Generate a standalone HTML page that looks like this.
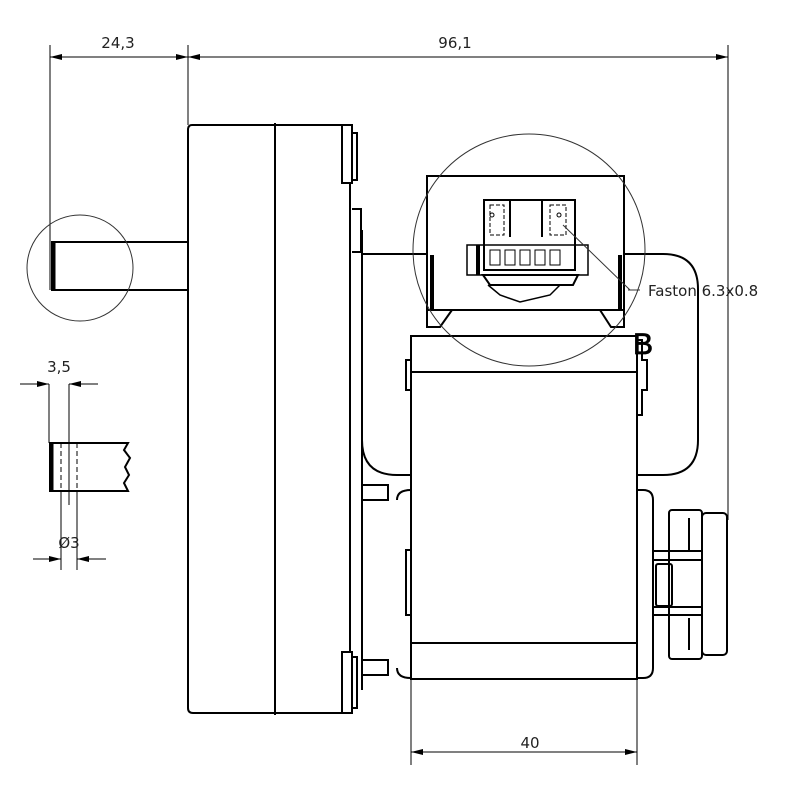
<!DOCTYPE html>
<html><head><meta charset="utf-8"><style>html,body{margin:0;padding:0;background:#fff}svg{display:block}</style></head>
<body>
<svg width="800" height="800" viewBox="0 0 800 800" xmlns="http://www.w3.org/2000/svg" font-family="'DejaVu Sans','Liberation Sans',sans-serif">
<defs>
<marker id="a" viewBox="0 0 12 6" refX="12" refY="3" markerWidth="12" markerHeight="6" orient="auto-start-reverse" markerUnits="userSpaceOnUse"><path d="M0,0L12,3L0,6z" fill="#000"/></marker>
</defs>
<g stroke="#000" fill="none" stroke-width="2">
<!-- bracket (drawn first so boxes cover it) -->
<path d="M362,254H663Q698,254 698,289V440Q698,475 663,475H637"/>
<path d="M411,475H397Q362,475 362,440"/>
</g>
<g stroke="#000" fill="none" stroke-width="1">
<!-- top dims -->
<line x1="50" y1="45" x2="50" y2="290"/>
<line x1="188" y1="45" x2="188" y2="125"/>
<line x1="728" y1="45" x2="728" y2="520"/>
<line x1="50" y1="57" x2="188" y2="57" marker-start="url(#a)" marker-end="url(#a)"/>
<line x1="188" y1="57" x2="728" y2="57" marker-start="url(#a)" marker-end="url(#a)"/>
<!-- bottom dim -->
<line x1="411" y1="680" x2="411" y2="765"/>
<line x1="637" y1="680" x2="637" y2="765"/>
<line x1="411" y1="752" x2="637" y2="752" marker-start="url(#a)" marker-end="url(#a)"/>
<!-- detail dims -->
<line x1="49" y1="384" x2="49" y2="443"/>
<line x1="69" y1="384" x2="69" y2="505"/>
<line x1="20" y1="384" x2="49" y2="384" marker-end="url(#a)"/>
<line x1="98" y1="384" x2="69" y2="384" marker-end="url(#a)"/>
<line x1="61" y1="491" x2="61" y2="570"/>
<line x1="77" y1="491" x2="77" y2="570"/>
<line x1="33" y1="559" x2="61" y2="559" marker-end="url(#a)"/>
<line x1="106" y1="559" x2="77" y2="559" marker-end="url(#a)"/>
</g>
<g stroke="#000" fill="none" stroke-width="2">
<!-- shaft -->
<path d="M188,242H52V290H188"/>
<line x1="54" y1="243" x2="54" y2="289" stroke-width="3"/>
<!-- gear body -->
<path d="M350,125H192Q188,125 188,130V708Q188,713 193,713H350"/>
<line x1="275" y1="123" x2="275" y2="715"/>
<path d="M342,125H352V183H342Z"/>
<path d="M352,133H357V180H352"/>
<path d="M342,652H352V713H342Z"/>
<path d="M352,657H357V708H352"/>
<line x1="350" y1="183" x2="350" y2="652"/>
<line x1="362" y1="230" x2="362" y2="690"/>
<path d="M352,209H361V252H352"/>
<path d="M362,485H388V500H362M362,660H388V675H362"/>
<path d="M411,490Q397,490 397,500M411,678Q397,678 397,668"/>
<!-- connector box -->
<rect x="427" y="176" width="197" height="134" fill="#fff"/>
<path d="M427,310V327H440L452,310M624,310V327H611L600,310"/>
<line x1="436" y1="310" x2="616" y2="310"/>
<path d="M432,255V310M620,255V310" stroke-width="4"/>
<!-- motor -->
<rect x="411" y="336" width="226" height="343" fill="#fff"/>
<line x1="411" y1="372" x2="637" y2="372"/>
<line x1="411" y1="643" x2="637" y2="643"/>
<path d="M411,360H406V390H411M411,550H406V615H411"/>
<path d="M637,340H642V360H647V390H642V415H637"/>
<!-- connector -->
<path d="M484,200H575V270H484Z"/>
<line x1="510" y1="200" x2="510" y2="237"/>
<line x1="542" y1="200" x2="542" y2="237"/>
<path d="M467,245H588V275H467Z" stroke-width="1.5"/>
<path d="M478,245V275" stroke-width="4"/>
<path d="M483,275H578L573,285H490Z"/>
<path d="M488,285L500,295L520,302L550,295L560,285" stroke-width="1.5"/>
<path d="M490,205H504V235H490Z M550,205H566V235H550Z" stroke-width="1" stroke-dasharray="4,2"/>
<g stroke-width="1"><path d="M490,250H500V265H490ZM505,250H515V265H505ZM520,250H530V265H520ZM535,250H545V265H535ZM550,250H560V265H550Z"/></g>
<circle cx="492" cy="215" r="2" stroke-width="1"/>
<circle cx="559" cy="215" r="2" stroke-width="1"/>
<!-- right knob -->
<path d="M637,490H643Q653,490 653,500V668Q653,678 643,678H637"/>
<rect x="669" y="510" width="33" height="149" rx="3"/>
<rect x="702" y="513" width="25" height="142" rx="4"/>
<path d="M653,551H702M653,560H702M653,607H702M653,615H702"/>
<rect x="656" y="564" width="16" height="42" rx="2"/>
<path d="M689,518V550M689,618V650"/>
<!-- detail shaft -->
<path d="M128,443H50V491H128L124,483L129,475L125,467L130,458L124,450Z"/>
<line x1="52" y1="444" x2="52" y2="490" stroke-width="3"/>
<g stroke-width="1" stroke-dasharray="5,3"><line x1="61" y1="443" x2="61" y2="491"/><line x1="77" y1="443" x2="77" y2="491"/><line x1="69" y1="443" x2="69" y2="491"/></g>
</g>
<g stroke="#333" fill="none" stroke-width="1">
<circle cx="80" cy="268" r="53"/>
<circle cx="529" cy="250" r="116"/>
<line x1="563" y1="225" x2="630" y2="290"/>
<line x1="628" y1="290" x2="640" y2="290"/>
</g>
<g fill="#222" font-size="15">
<text x="118" y="48" text-anchor="middle">24,3</text>
<text x="455" y="48" text-anchor="middle">96,1</text>
<text x="59" y="372" text-anchor="middle">3,5</text>
<text x="69" y="548" text-anchor="middle">Ø3</text>
<text x="530" y="748" text-anchor="middle">40</text>
<text x="648" y="296" font-size="15">Faston 6.3x0.8</text>
<text x="633" y="354" font-size="30" fill="#000" stroke="#000" stroke-width="0.8" font-family="'Liberation Sans',sans-serif">B</text>
</g>
</svg>
</body></html>
